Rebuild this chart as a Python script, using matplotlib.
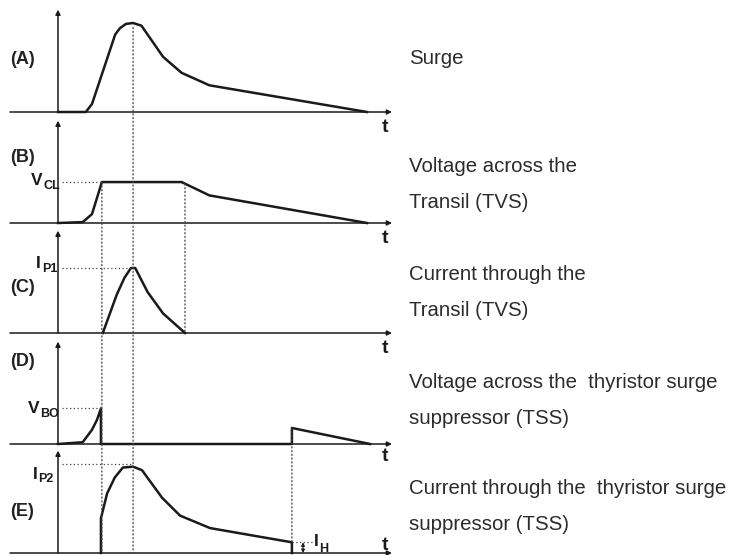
import matplotlib
matplotlib.use("Agg")
import matplotlib.pyplot as plt
from matplotlib.patches import ConnectionPatch

plt.rcParams['font.family'] = ['Liberation Sans', 'DejaVu Sans']

# (A) surge
t_surge = [0, 9, 11, 18.5, 20, 22, 24.3, 27, 34, 40, 49, 100]
v_surge = [0, 0, 9, 87, 94, 99, 100, 97, 62, 44, 30, 0]
# (B) voltage across the Transil
t_tvs_v = [0, 8, 11, 14.2, 40, 49, 100]
v_tvs = [0, 1, 10, 46, 46, 31, 0]
# (C) current through the Transil
t_tvs_i = [14.5, 19, 21.5, 23.6, 25, 29, 34, 41.1]
i_tvs = [0, 43, 62, 73, 73, 46, 22, 0]
# (D) voltage across the TSS
t_tss_v = [0, 8, 11, 12.6, 13.9, 13.9, 75.7, 75.7, 101]
v_tss = [0, 2, 16, 27, 40, 0, 0, 18, 0]
# (E) current through the TSS
t_tss_i = [13.9, 13.9, 15.9, 18.4, 21, 24.3, 27.2, 33.7, 39.5, 49.2, 75.7, 75.7]
i_tss = [0, 39, 67, 85, 96, 97, 93, 62, 42, 28, 12, 0]

panel_tags = ["(A)", "(B)", "(C)", "(D)", "(E)"]
descriptions = [
    ["Surge"],
    ["Voltage across the", "Transil (TVS)"],
    ["Current through the", "Transil (TVS)"],
    ["Voltage across the  thyristor surge", "suppressor (TSS)"],
    ["Current through the  thyristor surge", "suppressor (TSS)"],
]

VCL = max(v_tvs)
IP1 = max(i_tvs)
VBO = max(v_tss)
IP2 = 100
IH = 12
t_peak = 24.3
t_clamp = 14.2
t_tvs_end = 41.1
t_off = 75.7

W, H = 734, 555
fig = plt.figure(figsize=(W / 100, H / 100), dpi=100)

INK = "#1a1a1a"
DOT = dict(color="#444444", lw=0.9, ls=(0, (1, 2)))

px_per_t = 3.09
px_per_v = 0.89
x0_px = 58
left_px, right_px = 10, 392
baselines = [112, 223, 333, 444, 553]
tag_y = [60, 157, 288, 362, 512]
desc_y = [[59], [166, 202], [275, 311], [383, 418], [489, 524]]
t_label_dy = [-17, -17, -17, -14, 8]

series = [(t_surge, v_surge), (t_tvs_v, v_tvs), (t_tvs_i, i_tvs),
          (t_tss_v, v_tss), (t_tss_i, i_tss)]


def ftext(xp, yp, s, **kw):
    return fig.text(xp / W, 1 - yp / H, s, **kw)


def level_label(main, sub, main_x, main_base, sub_x, sub_base):
    ftext(main_x, main_base, main, fontsize=12.5, fontweight="bold",
          color=INK, ha="left", va="baseline")
    ftext(sub_x, sub_base, sub, fontsize=9, fontweight="bold",
          color=INK, ha="left", va="baseline")


axes = []
top_v = 115
for k, base in enumerate(baselines):
    h_px = top_v * px_per_v
    ax = fig.add_axes([left_px / W, 1 - base / H, (right_px - left_px) / W, h_px / H])
    ax.set_xlim((left_px - x0_px) / px_per_t, (right_px - x0_px) / px_per_t)
    ax.set_ylim(0, top_v)
    ax.axis("off")
    xmin, xmax = ax.get_xlim()
    ax.annotate("", xy=(xmax, 0), xytext=(xmin, 0),
                arrowprops=dict(arrowstyle="-|>", lw=1.1, color=INK,
                                mutation_scale=7, shrinkA=0, shrinkB=0),
                annotation_clip=False)
    ax.annotate("", xy=(0, top_v), xytext=(0, 0),
                arrowprops=dict(arrowstyle="-|>", lw=1.1, color=INK,
                                mutation_scale=7, shrinkA=0, shrinkB=0),
                annotation_clip=False)
    t, v = series[k]
    ax.plot(t, v, color=INK, lw=1.8, solid_joinstyle="round", clip_on=False)
    ax.text((385 - x0_px) / px_per_t, t_label_dy[k], "t", fontsize=14,
            fontweight="bold", color=INK, ha="center", va="center", clip_on=False)
    ftext(10, tag_y[k], panel_tags[k], fontsize=13, fontweight="bold",
          color="#222222", ha="left", va="center")
    for line, yy in zip(descriptions[k], desc_y[k]):
        ftext(409, yy, line, fontsize=14.7, color="#2b2b2b", ha="left", va="center")
    axes.append(ax)

axA, axB, axC, axD, axE = axes

# horizontal reference levels
axB.plot([1.3, t_clamp], [VCL, VCL], **DOT)
axC.plot([1.3, 23.6], [IP1, IP1], **DOT)
axD.plot([1.3, 13.9], [VBO, VBO], **DOT)
axE.plot([1.3, t_peak], [IP2, IP2], **DOT)
axE.plot([t_off, t_off + 6.5], [IH, IH], **DOT)

level_label("V", "CL", 31, 185, 43, 189)
level_label("I", "P1", 36, 268, 42, 272)
level_label("V", "BO", 28, 413, 40, 417)
level_label("I", "P2", 33, 479, 38, 482)
level_label("I", "H", 314, 546, 319, 552)

axE.annotate("", xy=(t_off + 3.6, 0), xytext=(t_off + 3.6, IH),
             arrowprops=dict(arrowstyle="<|-|>", lw=0.8, color=INK,
                             mutation_scale=5, shrinkA=0, shrinkB=0),
             annotation_clip=False)

# vertical dotted guides spanning panels
for t, axa, ya, axb, yb in [(t_peak, axA, 95, axE, 0),
                            (t_clamp, axB, VCL, axE, 0),
                            (t_tvs_end, axB, 44, axC, 0),
                            (t_off, axD, 18, axE, IH)]:
    con = ConnectionPatch(xyA=(t, ya), coordsA=axa.transData,
                          xyB=(t, yb), coordsB=axb.transData, **DOT)
    fig.add_artist(con)

fig.savefig("out.png", dpi=100)
